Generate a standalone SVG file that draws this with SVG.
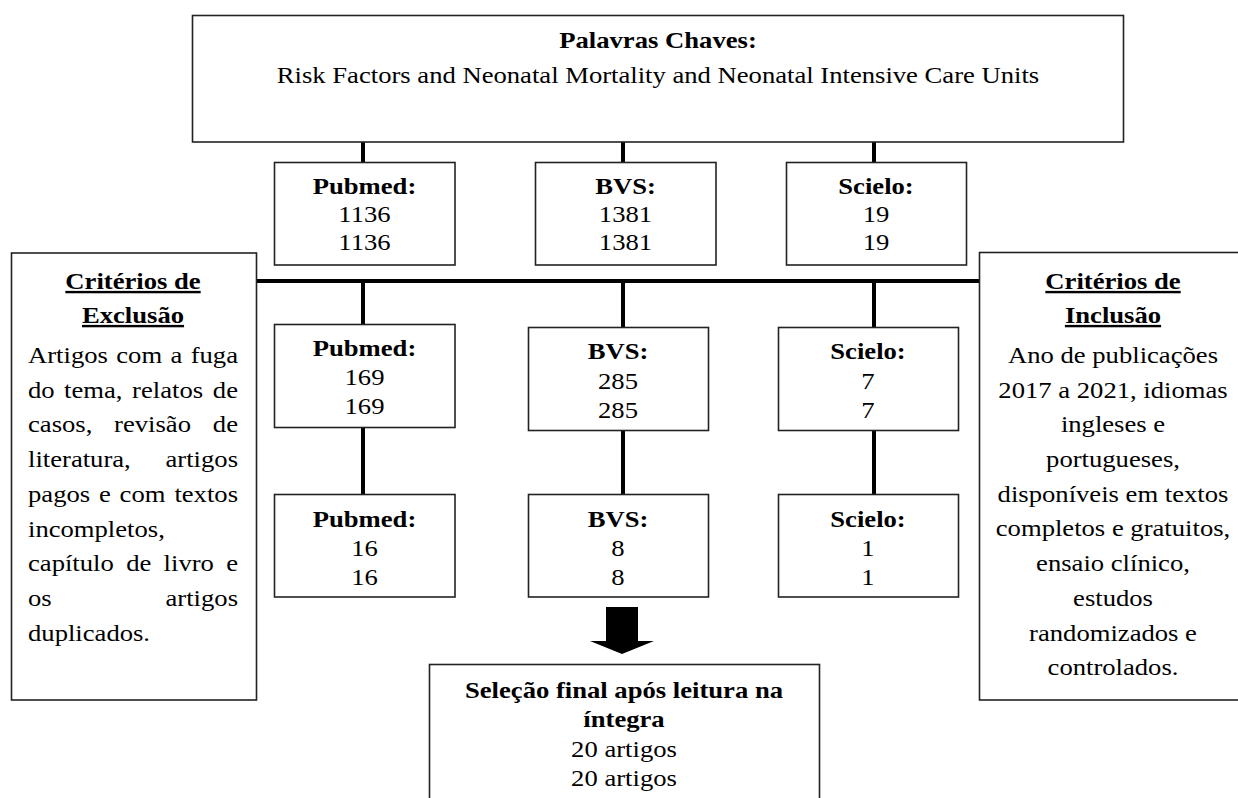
<svg xmlns="http://www.w3.org/2000/svg" width="1238" height="798" viewBox="0 0 1238 798">
<style>
.t{font-family:"Liberation Serif","Times New Roman",serif;font-size:24px;fill:#000}
.b{font-weight:bold}
.m{text-anchor:middle}
.e{text-anchor:end}
.u{text-decoration:underline}
.box{fill:#fff;stroke:#222;stroke-width:1.6}
.conn{stroke:#000;stroke-width:4;fill:none}
</style>
<rect width="1238" height="798" fill="#fff"/>
<g id="connectors">
<path class="conn" d="M363 142V162M623 142V162M874 142V162M256 281H979M363 281V324M623 281V327M874 281V327M363 428V494M623 431V494M874 431V494"/>
<polygon points="606,607 638,607 638,641 654,641 622,654 590,641 606,641" fill="#000"/>
</g>
<g id="palavras">
<rect class="box" x="192.5" y="15.5" width="931" height="126.5"/>
<text class="t m" transform="translate(658 0) scale(1.11 1)"><tspan x="0" y="48" class="b">Palavras Chaves:</tspan><tspan x="0" y="83">Risk Factors and Neonatal Mortality and Neonatal Intensive Care Units</tspan></text>
</g>
<g id="pubmed1">
<rect class="box" x="274.5" y="162.5" width="180.5" height="102.5"/>
<text class="t m" transform="translate(364.5 0) scale(1.11 1)"><tspan x="0" y="194" class="b">Pubmed:</tspan><tspan x="0" y="222">1136</tspan><tspan x="0" y="250">1136</tspan></text>
</g>
<g id="bvs1">
<rect class="box" x="535.5" y="162.5" width="180.5" height="102.5"/>
<text class="t m" transform="translate(625.5 0) scale(1.11 1)"><tspan x="0" y="194" class="b">BVS:</tspan><tspan x="0" y="222">1381</tspan><tspan x="0" y="250">1381</tspan></text>
</g>
<g id="scielo1">
<rect class="box" x="786.5" y="162.5" width="180" height="102.5"/>
<text class="t m" transform="translate(876 0) scale(1.11 1)"><tspan x="0" y="194" class="b">Scielo:</tspan><tspan x="0" y="222">19</tspan><tspan x="0" y="250">19</tspan></text>
</g>
<g id="pubmed2">
<rect class="box" x="274.5" y="324.5" width="180.5" height="103"/>
<text class="t m" transform="translate(364.5 0) scale(1.11 1)"><tspan x="0" y="356" class="b">Pubmed:</tspan><tspan x="0" y="385">169</tspan><tspan x="0" y="414">169</tspan></text>
</g>
<g id="bvs2">
<rect class="box" x="528.5" y="327.5" width="180" height="103"/>
<text class="t m" transform="translate(618 0) scale(1.11 1)"><tspan x="0" y="359" class="b">BVS:</tspan><tspan x="0" y="389">285</tspan><tspan x="0" y="418">285</tspan></text>
</g>
<g id="scielo2">
<rect class="box" x="778.5" y="327.5" width="180" height="103"/>
<text class="t m" transform="translate(868 0) scale(1.11 1)"><tspan x="0" y="359" class="b">Scielo:</tspan><tspan x="0" y="389">7</tspan><tspan x="0" y="418">7</tspan></text>
</g>
<g id="pubmed3">
<rect class="box" x="274.5" y="494.5" width="180.5" height="102.5"/>
<text class="t m" transform="translate(364.5 0) scale(1.11 1)"><tspan x="0" y="527" class="b">Pubmed:</tspan><tspan x="0" y="556">16</tspan><tspan x="0" y="585">16</tspan></text>
</g>
<g id="bvs3">
<rect class="box" x="528.5" y="494.5" width="180" height="102.5"/>
<text class="t m" transform="translate(618 0) scale(1.11 1)"><tspan x="0" y="527" class="b">BVS:</tspan><tspan x="0" y="556">8</tspan><tspan x="0" y="585">8</tspan></text>
</g>
<g id="scielo3">
<rect class="box" x="778.5" y="494.5" width="180" height="102.5"/>
<text class="t m" transform="translate(868 0) scale(1.11 1)"><tspan x="0" y="527" class="b">Scielo:</tspan><tspan x="0" y="556">1</tspan><tspan x="0" y="585">1</tspan></text>
</g>
<g id="exclusao">
<rect class="box" x="11.5" y="253" width="245" height="447"/>
<text class="t m b u" transform="translate(133 0) scale(1.11 1)"><tspan x="0" y="289">Critérios de</tspan><tspan x="0" y="323">Exclusão</tspan></text>
<text class="t" transform="translate(28 363) scale(1.11 1)">Artigos</text>
<text class="t" transform="translate(116.3 363) scale(1.11 1)">com</text>
<text class="t" transform="translate(170.5 363) scale(1.11 1)">a</text>
<text class="t e" transform="translate(238 363) scale(1.11 1)">fuga</text>
<text class="t" transform="translate(28 397.7) scale(1.11 1)">do</text>
<text class="t" transform="translate(64.1 397.7) scale(1.11 1)">tema,</text>
<text class="t" transform="translate(132.1 397.7) scale(1.11 1)">relatos</text>
<text class="t e" transform="translate(238 397.7) scale(1.11 1)">de</text>
<text class="t" transform="translate(28 432.4) scale(1.11 1)">casos,</text>
<text class="t" transform="translate(114.1 432.4) scale(1.11 1)">revisão</text>
<text class="t e" transform="translate(238 432.4) scale(1.11 1)">de</text>
<text class="t" transform="translate(28 467.1) scale(1.11 1)">literatura,</text>
<text class="t e" transform="translate(238 467.1) scale(1.11 1)">artigos</text>
<text class="t" transform="translate(28 501.8) scale(1.11 1)">pagos</text>
<text class="t" transform="translate(99 501.8) scale(1.11 1)">e</text>
<text class="t" transform="translate(119.6 501.8) scale(1.11 1)">com</text>
<text class="t e" transform="translate(238 501.8) scale(1.11 1)">textos</text>
<text class="t" transform="translate(28 536.5) scale(1.11 1)">incompletos,</text>
<text class="t" transform="translate(28 571.2) scale(1.11 1)">capítulo</text>
<text class="t" transform="translate(126.2 571.2) scale(1.11 1)">de</text>
<text class="t" transform="translate(163.6 571.2) scale(1.11 1)">livro</text>
<text class="t e" transform="translate(238 571.2) scale(1.11 1)">e</text>
<text class="t" transform="translate(28 605.9) scale(1.11 1)">os</text>
<text class="t e" transform="translate(238 605.9) scale(1.11 1)">artigos</text>
<text class="t" transform="translate(28 640.6) scale(1.11 1)">duplicados.</text>
</g>
<g id="inclusao">
<rect class="box" x="979.5" y="252.5" width="262" height="447.5"/>
<text class="t m b u" transform="translate(1113 0) scale(1.11 1)"><tspan x="0" y="289">Critérios de</tspan><tspan x="0" y="323">Inclusão</tspan></text>
<text class="t m" transform="translate(1113 0) scale(1.11 1)"><tspan x="0" y="363">Ano de publicações</tspan><tspan x="0" y="397.7">2017 a 2021, idiomas</tspan><tspan x="0" y="432.4">ingleses e</tspan><tspan x="0" y="467.1">portugueses,</tspan><tspan x="0" y="501.8">disponíveis em textos</tspan><tspan x="0" y="536.5">completos e gratuitos,</tspan><tspan x="0" y="571.2">ensaio clínico,</tspan><tspan x="0" y="605.9">estudos</tspan><tspan x="0" y="640.6">randomizados e</tspan><tspan x="0" y="675.3">controlados.</tspan></text>
</g>
<g id="selecao">
<rect class="box" x="429.5" y="664.5" width="390" height="150"/>
<text class="t m" transform="translate(624 0) scale(1.11 1)"><tspan x="0" y="698" class="b">Seleção final após leitura na</tspan><tspan x="0" y="727" class="b">íntegra</tspan><tspan x="0" y="757">20 artigos</tspan><tspan x="0" y="786">20 artigos</tspan></text>
</g>
</svg>
